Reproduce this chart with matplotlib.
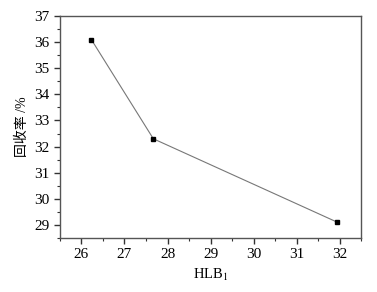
import matplotlib
matplotlib.use("Agg")
import matplotlib.pyplot as plt
from matplotlib.ticker import MultipleLocator

# Data
hlb = [26.23, 27.67, 31.95]
recovery = [36.1, 32.3, 29.1]

plt.rcParams['font.family'] = ['Liberation Serif', 'Noto Sans CJK SC']
plt.rcParams['mathtext.fontset'] = 'stix'

fig = plt.figure(figsize=(3.77, 2.92), dpi=100)
ax = fig.add_axes([0.159, 0.185, 0.799, 0.760])

ax.plot(hlb, recovery, color='#777777', lw=0.8, marker='s', ms=3.2,
        mfc='black', mec='black')

ax.set_xlim(25.5, 32.5)
ax.set_ylim(28.5, 37)
ax.xaxis.set_major_locator(MultipleLocator(1))
ax.xaxis.set_minor_locator(MultipleLocator(0.5))
ax.yaxis.set_major_locator(MultipleLocator(1))
ax.yaxis.set_minor_locator(MultipleLocator(0.5))

for s in ax.spines.values():
    s.set_color('#555555')
    s.set_linewidth(1.0)

ax.tick_params(which='both', direction='out', color='#333333', labelsize=11,
               top=False, right=False)
ax.tick_params(which='major', length=4, width=1)
ax.tick_params(which='minor', length=2.5, width=0.8)

ax.set_xlabel('HLB$_1$', fontsize=10.5, labelpad=4)
ax.set_ylabel('回收率 /%', fontsize=10, labelpad=4)

fig.savefig('out.png', dpi=100)
